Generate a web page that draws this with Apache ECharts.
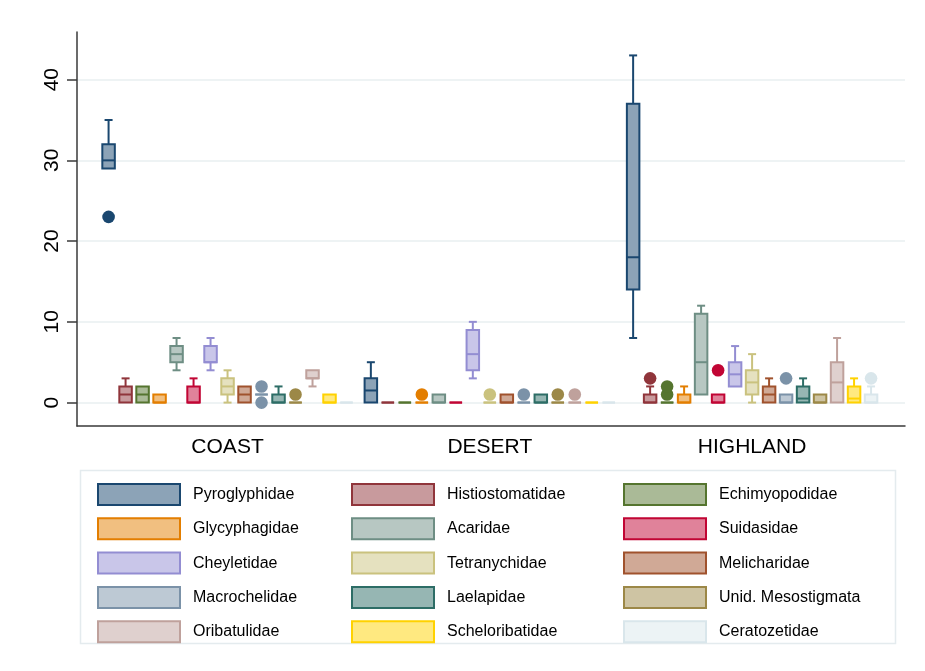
<!DOCTYPE html>
<html>
<head>
<meta charset="utf-8">
<script src="https://cdn.jsdelivr.net/npm/echarts@6/dist/echarts.min.js"></script>
<style>
  html, body { margin: 0; padding: 0; background: #ffffff; }
  #chart { width: 925px; height: 671px; }
</style>
</head>
<body>
<div id="chart"></div>
<script>
// Mite family abundance by region: box plots per family within each region.
const groups = ['COAST', 'DESERT', 'HIGHLAND'];
const families = [
  'Pyroglyphidae', 'Histiostomatidae', 'Echimyopodidae',
  'Glycyphagidae', 'Acaridae', 'Suidasidae',
  'Cheyletidae', 'Tetranychidae', 'Melicharidae',
  'Macrochelidae', 'Laelapidae', 'Unid. Mesostigmata',
  'Oribatulidae', 'Scheloribatidae', 'Ceratozetidae'
];
const yTicks = [0, 10, 20, 30, 40];

// [min, Q1, median, Q3, max] for each family, in family order
const coastBoxes = [
  [29, 29, 30, 32, 35],
  [0, 0, 1, 2, 3],
  [0, 0, 1, 2, 2],
  [0, 0, 0, 1, 1],
  [4, 5, 6, 7, 8],
  [0, 0, 0, 2, 3],
  [4, 5, 5, 7, 8],
  [0, 1, 2, 3, 4],
  [0, 0, 1, 2, 2],
  [1, 1, 1, 1, 1],
  [0, 0, 0, 1, 2],
  [0, 0, 0, 0, 0],
  [2, 3, 3, 4, 4],
  [0, 0, 0, 1, 1],
  [0, 0, 0, 0, 0]
];
const desertBoxes = [
  [0, 0, 1.5, 3, 5],
  [0, 0, 0, 0, 0],
  [0, 0, 0, 0, 0],
  [0, 0, 0, 0, 0],
  [0, 0, 0, 1, 1],
  [0, 0, 0, 0, 0],
  [3, 4, 6, 9, 10],
  [0, 0, 0, 0, 0],
  [0, 0, 0, 1, 1],
  [0, 0, 0, 0, 0],
  [0, 0, 0, 1, 1],
  [0, 0, 0, 0, 0],
  [0, 0, 0, 0, 0],
  [0, 0, 0, 0, 0],
  [0, 0, 0, 0, 0]
];
const highlandBoxes = [
  [8, 14, 18, 37, 43],
  [0, 0, 0, 1, 2],
  [0, 0, 0, 0, 0],
  [0, 0, 0, 1, 2],
  [1, 1, 5, 11, 12],
  [0, 0, 0, 1, 1],
  [2, 2, 3.5, 5, 7],
  [0, 1, 2.5, 4, 6],
  [0, 0, 1, 2, 3],
  [0, 0, 0, 1, 1],
  [0, 0, 0.5, 2, 3],
  [0, 0, 0, 1, 1],
  [0, 0, 2.5, 5, 8],
  [0, 0, 0.5, 2, 3],
  [0, 0, 0, 1, 2]
];

// Outside values for each family
const coastOutliers = [[23], [], [], [], [], [], [], [], [], [0, 2], [], [1], [], [], []];
const desertOutliers = [[], [], [], [1], [], [], [], [1], [], [1], [], [1], [1], [], []];
const highlandOutliers = [[], [3], [1, 2], [], [], [4], [], [], [], [3], [], [], [], [], [3]];

const boxesByGroup = [coastBoxes, desertBoxes, highlandBoxes];
const outliersByGroup = [coastOutliers, desertOutliers, highlandOutliers];

// Line colours and lighter fills for each family
const lineColors = [
  '#1a476f', '#90353b', '#55752f', '#e37e00', '#6e8e84',
  '#c10534', '#938dd2', '#cac27e', '#a0522d', '#7b92a8',
  '#2d6d66', '#9c8847', '#bfa19c', '#ffd200', '#d9e6eb'
];
const fillColors = [
  '#8ca3b7', '#c89a9d', '#aaba97', '#f1bf80', '#b7c7c2',
  '#e0829a', '#c9c6e9', '#e5e1bf', '#d0a996', '#bdc9d4',
  '#96b6b3', '#cec4a3', '#dfd0ce', '#ffe980', '#ecf3f5'
];

const SLOT = 0.0648;      // horizontal step between families inside a region (axis units)
const BOX_W = 12.5;       // box body width in px
const CAP_W = 8;          // whisker cap width in px
const DOT_R = 6.3;        // outside-value marker radius

function makeRenderer(fi) {
  return function (params, api) {
    const gi = api.value(0);
    const xv = gi + (fi - (families.length - 1) / 2) * SLOT;
    const vmin = api.value(1), q1 = api.value(2), med = api.value(3),
          q3 = api.value(4), vmax = api.value(5);
    const x = api.coord([xv, 0])[0];
    const yMin = api.coord([xv, vmin])[1];
    const yQ1 = api.coord([xv, q1])[1];
    const yMed = api.coord([xv, med])[1];
    const yQ3 = api.coord([xv, q3])[1];
    const yMax = api.coord([xv, vmax])[1];
    const line = lineColors[fi];
    const fill = fillColors[fi];
    const children = [];
    const stroke = { stroke: line, lineWidth: 2, fill: null };

    if (vmax > q3) {
      children.push({ type: 'line', shape: { x1: x, y1: yQ3, x2: x, y2: yMax }, style: stroke });
      children.push({ type: 'line', shape: { x1: x - CAP_W / 2, y1: yMax, x2: x + CAP_W / 2, y2: yMax }, style: stroke });
    }
    if (vmin < q1) {
      children.push({ type: 'line', shape: { x1: x, y1: yQ1, x2: x, y2: yMin }, style: stroke });
      children.push({ type: 'line', shape: { x1: x - CAP_W / 2, y1: yMin, x2: x + CAP_W / 2, y2: yMin }, style: stroke });
    }
    children.push({
      type: 'rect',
      shape: { x: x - BOX_W / 2, y: yQ3, width: BOX_W, height: yQ1 - yQ3 },
      style: { fill: fill, stroke: line, lineWidth: 2 }
    });
    children.push({ type: 'line', shape: { x1: x - BOX_W / 2, y1: yMed, x2: x + BOX_W / 2, y2: yMed }, style: stroke });

    const outs = outliersByGroup[gi][fi] || [];
    outs.forEach(function (v) {
      const p = api.coord([xv, v]);
      children.push({ type: 'circle', shape: { cx: p[0], cy: p[1], r: DOT_R }, style: { fill: line } });
    });
    return { type: 'group', children: children };
  };
}

const series = families.map(function (name, fi) {
  return {
    name: name,
    type: 'custom',
    renderItem: makeRenderer(fi),
    encode: { x: 0, y: [1, 2, 3, 4, 5] },
    itemStyle: { color: fillColors[fi], borderColor: lineColors[fi] },
    data: groups.map(function (g, gi) { return [gi].concat(boxesByGroup[gi][fi]); }),
    silent: true
  };
});

function legendColumn(col, left) {
  const names = families.filter(function (n, i) { return i % 3 === col; });
  return {
    orient: 'vertical',
    left: left,
    top: 483,
    padding: 0,
    itemGap: 11.3,
    itemWidth: 82,
    itemHeight: 21,
    icon: 'rect',
    selectedMode: false,
    textStyle: {
      fontFamily: 'Liberation Sans, Arial, sans-serif',
      fontSize: 16,
      color: '#000',
      padding: [0, 0, 0, 8]
    },
    data: names.map(function (n) {
      const i = families.indexOf(n);
      return { name: n, itemStyle: { color: fillColors[i], borderColor: lineColors[i], borderWidth: 2 } };
    })
  };
}

const chart = echarts.init(document.getElementById('chart'), null, { renderer: 'canvas' });
chart.setOption({
  backgroundColor: '#ffffff',
  animation: false,
  graphic: [{
    type: 'rect',
    shape: { x: 80.5, y: 470.5, width: 815, height: 173 },
    style: { fill: '#ffffff', stroke: '#e4ebee', lineWidth: 1.5 },
    z: -1,
    silent: true
  }],
  legend: [legendColumn(0, 97), legendColumn(1, 351), legendColumn(2, 623)],
  grid: { left: 77, right: 20, top: 32, bottom: 671 - 426, containLabel: false },
  xAxis: {
    type: 'value',
    min: -0.574,
    max: 2.583,
    axisLine: { show: true, onZero: false, lineStyle: { color: '#3a3a3a', width: 1.5 } },
    axisTick: { show: false },
    splitLine: { show: false },
    axisLabel: {
      customValues: [0, 1, 2],
      formatter: function (v) { return groups[Math.round(v)]; },
      fontFamily: 'Liberation Sans, Arial, sans-serif',
      fontSize: 21,
      color: '#000',
      margin: 11
    }
  },
  yAxis: {
    type: 'value',
    min: -2.9,
    max: 45.9,
    axisLine: { show: true, onZero: false, lineStyle: { color: '#3a3a3a', width: 1.5 } },
    axisTick: { show: true, customValues: yTicks, length: 10, lineStyle: { color: '#3a3a3a', width: 1.5 } },
    splitLine: { show: true, lineStyle: { color: '#e8eff1', width: 1.5 } },
    axisLabel: {
      customValues: yTicks,
      rotate: 90,
      fontFamily: 'Liberation Sans, Arial, sans-serif',
      fontSize: 21,
      color: '#000',
      margin: 14
    }
  },
  series: series
});
</script>
</body>
</html>
